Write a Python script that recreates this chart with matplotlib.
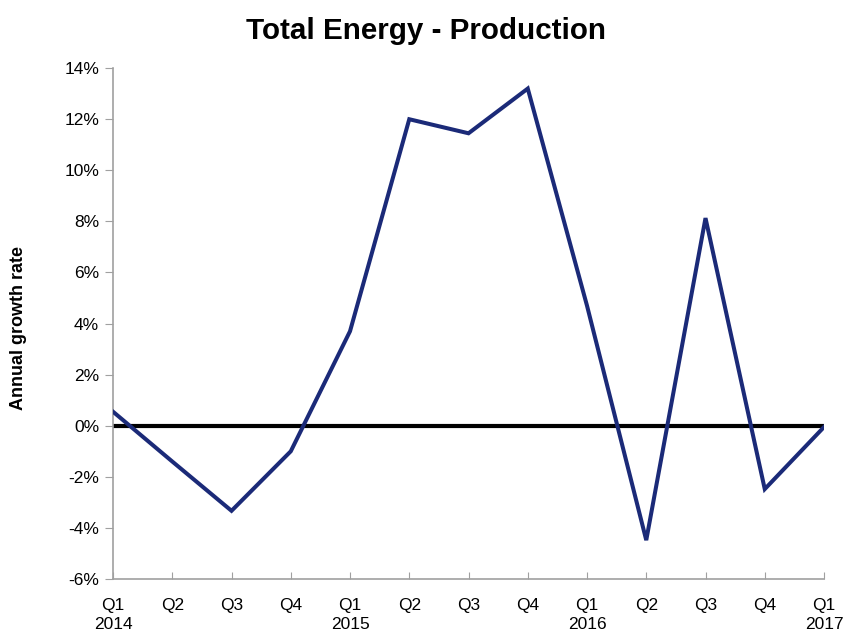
import matplotlib.pyplot as plt
import numpy as np

plt.rcParams["font.family"] = ["Liberation Sans", "DejaVu Sans"]

quarters = ["Q1\n2014", "Q2", "Q3", "Q4", "Q1\n2015", "Q2", "Q3", "Q4",
            "Q1\n2016", "Q2", "Q3", "Q4", "Q1\n2017"]
growth = [0.55, -1.4, -3.33, -1.0, 3.7, 12.0, 11.45, 13.2,
          4.7, -4.48, 8.13, -2.48, -0.05]

fig = plt.figure(figsize=(8.46, 6.31), dpi=100)
ax = fig.add_axes([0.1336, 0.0824, 0.8404, 0.8096])

x = np.arange(len(growth))
ax.axhline(0, color="black", linewidth=3, zorder=2)
ax.plot(x, growth, color="#1B2A78", linewidth=2.9, zorder=3,
        solid_joinstyle="miter")

ax.set_xlim(0, len(growth) - 1)
ax.set_ylim(-6, 14)
ax.set_yticks(np.arange(-6, 15, 2))
ax.set_yticklabels([f"{v}%" for v in range(-6, 15, 2)], fontsize=12.5)
ax.set_xticks(x)
ax.set_xticklabels(quarters, fontsize=12.5, linespacing=1.3)

for side in ["top", "right"]:
    ax.spines[side].set_visible(False)
for side in ["left", "bottom"]:
    ax.spines[side].set_color("#A0A0A0")
    ax.spines[side].set_linewidth(1.2)

ax.tick_params(axis="y", direction="out", length=6, color="#A0A0A0", pad=4)
ax.tick_params(axis="x", direction="in", length=5, color="#A0A0A0", pad=14)

fig.text(0.022, 0.48, "Annual growth rate", rotation=90, fontsize=13,
         fontweight="bold", ha="center", va="center")
fig.suptitle("Total Energy - Production", fontsize=21.3, fontweight="bold",
             x=0.503, y=0.973, va="top")

fig.savefig("out.png", dpi=100)
